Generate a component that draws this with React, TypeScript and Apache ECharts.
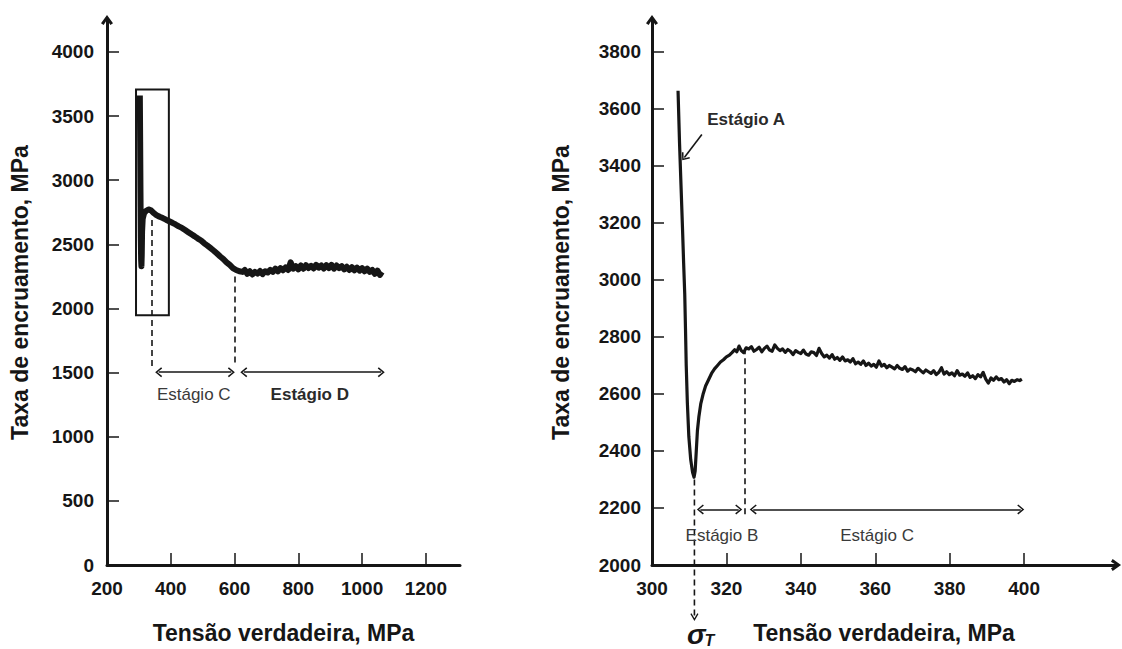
import React, { useEffect, useRef } from 'react';
import * as echarts from 'echarts';

// ---- data ----
const leftStress = [
  303, 304, 305, 306, 307, 308, 309, 310, 312, 316, 322, 330, 338, 346, 355, 365, 375, 385, 395, 405,
  415, 425, 435, 445, 455, 465, 475, 485, 495, 505, 515, 525, 535, 545, 555, 565, 575, 585, 595, 605,
  615, 625, 632, 640, 648, 656, 664, 672, 680, 688, 696, 704, 712, 720, 728, 736, 744, 752, 760, 768,
  776, 784, 792, 800, 808, 816, 824, 832, 840, 848, 856, 864, 872, 880, 888, 896, 904, 912, 920, 928,
  936, 944, 952, 960, 968, 976, 984, 992, 1000, 1008, 1016, 1024, 1032, 1040, 1048, 1056, 1062,
];
const leftRate = [
  3660, 3300, 2900, 2550, 2380, 2330, 2420, 2600, 2700, 2740, 2760, 2772, 2765, 2745, 2728, 2715, 2705, 2692, 2680, 2668,
  2655, 2640, 2628, 2612, 2595, 2578, 2562, 2545, 2530, 2508, 2490, 2470, 2450, 2428, 2405, 2385, 2360, 2340, 2315, 2300,
  2290, 2285, 2300, 2270, 2290, 2265, 2285, 2272, 2292, 2268, 2290, 2280, 2300, 2285, 2310, 2290, 2315, 2298, 2320, 2300,
  2360, 2310, 2330, 2305, 2335, 2310, 2338, 2315, 2332, 2312, 2340, 2318, 2335, 2312, 2338, 2315, 2340, 2310, 2335, 2315,
  2330, 2305, 2325, 2300, 2322, 2298, 2318, 2295, 2315, 2290, 2310, 2285, 2300, 2270, 2295, 2262, 2285,
];

const rightStress = [
  307.0, 307.4, 307.8, 308.2, 308.5, 308.8, 309.0, 309.2, 309.5, 309.9, 310.4, 310.9, 311.3, 311.6, 311.9, 312.2, 312.6, 313.1, 313.7, 314.4,
  315.2, 316.0, 316.8, 317.6, 318.4, 319.2, 320.0, 320.8, 321.5, 322.2, 322.8, 323.4, 324.0, 324.6, 325.3, 326.0, 326.7, 327.4, 328.1, 328.8,
  329.5, 330.2, 330.9, 331.6, 332.3, 333.0, 333.7, 334.4, 335.1, 335.8, 336.5, 337.2, 337.9, 338.6, 339.3, 340.0, 340.7, 341.4, 342.1, 342.8,
  343.5, 344.2, 344.9, 345.6, 346.3, 347.0, 347.7, 348.4, 349.1, 349.8, 350.5, 351.2, 351.9, 352.6, 353.3, 354.0, 354.7, 355.4, 356.1, 356.8,
  357.5, 358.2, 358.9, 359.6, 360.3, 361.0, 361.7, 362.4, 363.1, 363.8, 364.5, 365.2, 365.9, 366.6, 367.3, 368.0, 368.7, 369.4, 370.1, 370.8,
  371.5, 372.2, 372.9, 373.6, 374.3, 375.0, 375.7, 376.4, 377.1, 377.8, 378.5, 379.2, 379.9, 380.6, 381.3, 382.0, 382.7, 383.4, 384.1, 384.8,
  385.5, 386.2, 386.9, 387.6, 388.3, 389.0, 389.7, 390.4, 391.1, 391.8, 392.5, 393.2, 393.9, 394.6, 395.3, 396.0, 396.7, 397.4, 398.1, 398.8,
  399.4,
];
const rightRate = [
  3664, 3480, 3330, 3180, 3060, 2950, 2830, 2700, 2570, 2450, 2370, 2325, 2308, 2330, 2400, 2470, 2520, 2565, 2598, 2628,
  2650, 2672, 2688, 2700, 2712, 2720, 2730, 2736, 2745, 2755, 2748, 2768, 2752, 2745, 2762, 2758, 2766, 2750, 2756, 2764,
  2748, 2760, 2768, 2754, 2750, 2772, 2760, 2752, 2758, 2746, 2756, 2750, 2738, 2752, 2746, 2742, 2754, 2740, 2736, 2748,
  2745, 2735, 2760, 2742, 2730, 2736, 2726, 2738, 2722, 2728, 2718, 2730, 2716, 2720, 2712, 2724, 2706, 2712, 2704, 2716,
  2700, 2708, 2698, 2704, 2694, 2716, 2698, 2704, 2692, 2700, 2694, 2688, 2700, 2690, 2686, 2696, 2680, 2688, 2684, 2678,
  2690, 2682, 2674, 2684, 2678, 2672, 2682, 2668, 2676, 2692, 2670, 2678, 2668, 2674, 2664, 2682, 2666, 2670, 2662, 2674,
  2658, 2664, 2654, 2668, 2660, 2676, 2652, 2638, 2656, 2648, 2660, 2650, 2654, 2642, 2650, 2636, 2648, 2644, 2650, 2647,
  2652,
];

const leftXTicks = [200, 400, 600, 800, 1000, 1200];
const leftYTicks = [0, 500, 1000, 1500, 2000, 2500, 3000, 3500, 4000];
const rightXTicks = [300, 320, 340, 360, 380, 400];
const rightYTicks = [2000, 2200, 2400, 2600, 2800, 3000, 3200, 3400, 3600, 3800];

// σT marker: dashed drop from the minimum down below the axis
const sigmaStress = 311.4;
const sigmaTopRate = 2300;
const sigmaBottomRate = 1812;

const FONT = "'Liberation Sans', Arial, Helvetica, sans-serif";
const INK = '#161616';
const GREY = '#3a3a3a';
const CHEVRON = 'path://M5,0 L10,6 L8.8,7 L5,2.2 L1.2,7 L0,6 Z';
const AXIS_ARROW = 'path://M5,0 L10,7 L7.8,8.4 L5,4 L2.2,8.4 L0,7 Z';

function axis(opts: any) {
  return {
    type: 'value',
    gridIndex: opts.grid,
    min: opts.min,
    max: opts.max,
    name: opts.name,
    nameLocation: 'middle',
    nameGap: opts.nameGap,
    nameRotate: opts.nameRotate,
    nameTextStyle: { fontFamily: FONT, fontSize: 23, fontWeight: 'bold', color: INK },
    axisLine: {
      show: true,
      onZero: false,
      symbol: opts.arrow ? ['none', AXIS_ARROW] : ['none', 'none'],
      symbolSize: [12, 11],
      lineStyle: { color: INK, width: 3 },
    },
    axisTick: {
      show: true,
      inside: true,
      length: 12,
      customValues: opts.ticks,
      lineStyle: { color: INK, width: 1.5 },
    },
    axisLabel: {
      customValues: opts.ticks,
      formatter: (v: number) => String(v),
      fontFamily: FONT,
      fontSize: 19,
      fontWeight: 'bold',
      color: INK,
      margin: opts.labelMargin,
    },
    splitLine: { show: false },
  };
}

const dash = { color: INK, width: 1.6, type: [6, 4] };
const solid = { color: INK, width: 1.6, type: 'solid' };

function seg(a: number[], b: number[], style: any, endA: any, endB: any, size = [10, 7]) {
  return [
    { coord: a, symbol: endA, symbolSize: size, lineStyle: style },
    { coord: b, symbol: endB, symbolSize: size, lineStyle: style },
  ];
}

function txt(coord: number[], text: string, bold: boolean, color = GREY) {
  return {
    coord,
    label: {
      show: true,
      position: 'inside',
      formatter: text,
      fontFamily: FONT,
      fontSize: 17,
      fontWeight: bold ? 'bold' : 'normal',
      color,
    },
  };
}

export default function App() {
  const ref = useRef<HTMLDivElement>(null);

  useEffect(() => {
    const chart = echarts.init(ref.current as HTMLDivElement, null, { renderer: 'svg' });
    const leftData = leftStress.map((x, i) => [x, leftRate[i]]);
    const rightData = rightStress.map((x, i) => [x, rightRate[i]]);

    const option: any = {
      animation: false,
      backgroundColor: '#ffffff',
      grid: [
        { left: 107, top: 20, width: 353, bottom: 83, containLabel: false },
        { left: 652, top: 20, right: 6, bottom: 82, containLabel: false },
      ],
      xAxis: [
        axis({ grid: 0, min: 200, max: 1307, ticks: leftXTicks, name: 'Tensão verdadeira, MPa', nameGap: 56, labelMargin: 14, arrow: false }),
        axis({ grid: 1, min: 300, max: 424.7, ticks: rightXTicks, name: 'Tensão verdadeira, MPa', nameGap: 56, labelMargin: 14, arrow: true }),
      ],
      yAxis: [
        axis({ grid: 0, min: 0, max: 4249, ticks: leftYTicks, name: 'Taxa de encruamento, MPa', nameGap: 76, nameRotate: 90, labelMargin: 13, arrow: true }),
        axis({ grid: 1, min: 2000, max: 3912, ticks: rightYTicks, name: 'Taxa de encruamento, MPa', nameGap: 80, nameRotate: 90, labelMargin: 11, arrow: true }),
      ],
      series: [
        {
          type: 'line',
          xAxisIndex: 0,
          yAxisIndex: 0,
          data: leftData,
          showSymbol: false,
          symbol: 'none',
          clip: false,
          lineStyle: { color: INK, width: 6, join: 'round' },
          markArea: {
            silent: true,
            itemStyle: { color: 'rgba(0,0,0,0)', borderColor: INK, borderWidth: 2 },
            data: [[{ coord: [291, 3707] }, { coord: [394, 1947] }]],
          },
          markLine: {
            silent: true,
            label: { show: false },
            lineStyle: solid,
            data: [
              seg([341, 2690], [341, 1545], dash, 'none', 'none'),
              seg([601, 2250], [601, 1560], dash, 'none', 'none'),
              seg([362, 1503], [590, 1503], solid, CHEVRON, CHEVRON),
              seg([629, 1503], [1060, 1503], solid, CHEVRON, CHEVRON),
            ],
          },
          markPoint: {
            silent: true,
            symbol: 'circle',
            symbolSize: 1,
            itemStyle: { color: 'rgba(0,0,0,0)' },
            data: [txt([472, 1332], 'Estágio C', false), txt([836, 1332], 'Estágio D', true, '#2a2a2a')],
          },
        },
        {
          type: 'line',
          xAxisIndex: 1,
          yAxisIndex: 1,
          data: rightData,
          showSymbol: false,
          symbol: 'none',
          clip: false,
          lineStyle: { color: INK, width: 3.2, join: 'round' },
          markLine: {
            silent: true,
            label: { show: false },
            lineStyle: solid,
            data: [
              seg([324.9, 2760], [324.9, 2165], dash, 'none', 'none'),
              seg([313.0, 2195], [323.3, 2195], solid, CHEVRON, CHEVRON),
              seg([327.2, 2195], [399.1, 2195], solid, CHEVRON, CHEVRON),
              seg([313.4, 3510], [308.7, 3430], solid, 'none', CHEVRON),
            ],
          },
          markPoint: {
            silent: true,
            symbol: 'circle',
            symbolSize: 1,
            itemStyle: { color: 'rgba(0,0,0,0)' },
            data: [
              txt([325.3, 3562], 'Estágio A', true, '#2a2a2a'),
              txt([318.8, 2105], 'Estágio B', false),
              txt([360.5, 2105], 'Estágio C', false),
            ],
          },
        },
      ],
    };
    chart.setOption(option);

    // σT drop line below the axis, positioned through the right chart's scales
    const finder = { xAxisIndex: 1, yAxisIndex: 1 };
    const top = chart.convertToPixel(finder, [sigmaStress, sigmaTopRate]) as number[];
    const bot = chart.convertToPixel(finder, [sigmaStress, sigmaBottomRate]) as number[];
    if (top && bot) {
      const x = top[0];
      chart.setOption({
        graphic: [
          {
            type: 'line',
            silent: true,
            shape: { x1: x, y1: top[1], x2: x, y2: bot[1] },
            style: { stroke: INK, lineWidth: 1.6, lineDash: [6, 4] },
          },
          {
            type: 'polyline',
            silent: true,
            shape: { points: [[x - 3.5, bot[1] - 5], [x, bot[1] + 1], [x + 3.5, bot[1] - 5]] },
            style: { stroke: INK, lineWidth: 1.3, fill: 'none' },
          },
          {
            type: 'text',
            silent: true,
            x: x + 2,
            y: 648,
            style: {
              text: 'σ',
              fontFamily: FONT,
              fontSize: 28,
              fontStyle: 'italic',
              fontWeight: 'bold',
              fill: INK,
              align: 'center',
              verticalAlign: 'bottom',
            },
          },
          {
            type: 'text',
            silent: true,
            x: x + 10,
            y: 648,
            style: {
              text: 'T',
              fontFamily: FONT,
              fontSize: 16,
              fontStyle: 'italic',
              fontWeight: 'bold',
              fill: INK,
              align: 'left',
              verticalAlign: 'bottom',
            },
          },
        ],
      });
    }
    return () => chart.dispose();
  }, []);

  return (
    <div
      ref={ref}
      style={{ position: 'fixed', left: 0, top: 0, width: 1122, height: 649, background: '#fff' }}
    />
  );
}
